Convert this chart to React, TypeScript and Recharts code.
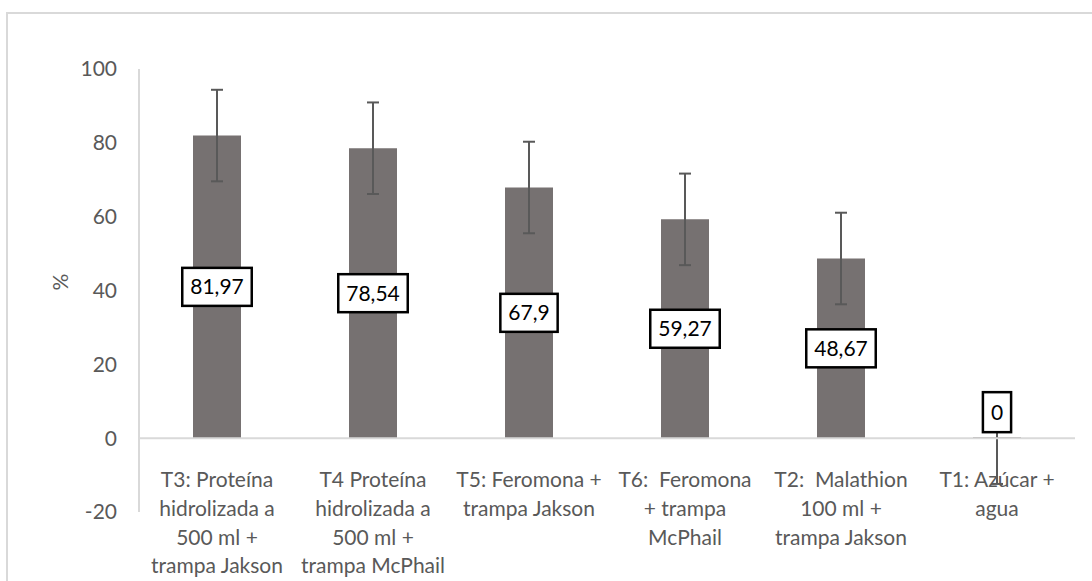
import {
  BarChart,
  Bar,
  XAxis,
  YAxis,
  ErrorBar,
  LabelList,
  ReferenceLine,
} from "recharts";

const categories = [
  "T3: Proteína\nhidrolizada a\n500 ml +\ntrampa Jakson",
  "T4 Proteína\nhidrolizada a\n500 ml +\ntrampa McPhail",
  "T5: Feromona +\ntrampa Jakson",
  "T6:  Feromona\n+ trampa\nMcPhail",
  "T2:  Malathion\n100 ml +\ntrampa Jakson",
  "T1: Azúcar +\nagua",
];
const values = [81.97, 78.54, 67.9, 59.27, 48.67, 0];
const errors = [12.4, 12.4, 12.4, 12.4, 12.4, 12.4];
const yTicks = [-20, 0, 20, 40, 60, 80, 100];

const data = categories.map((name, i) => ({
  name,
  value: values[i],
  err: errors[i],
}));

const W = 1092;
const H = 581;
const TOP = 69;
const XAXIS_H = 69;
const Y_MIN = -20;
const Y_MAX = 100;
const FONT = "Lato, 'Open Sans', sans-serif";
const GREY_TEXT = "#595959";

// pixel distance from the plot bottom (-20) up to the zero line
const zeroOffset = ((0 - Y_MIN) / (Y_MAX - Y_MIN)) * (H - TOP - XAXIS_H);

const fmt = (v: number) => String(v).replace(".", ",");

let ctx: CanvasRenderingContext2D | null = null;
const measure = (text: string, size: number) => {
  if (!ctx) ctx = document.createElement("canvas").getContext("2d");
  if (!ctx) return text.length * size * 0.55;
  ctx.font = `${size}px Lato`;
  return ctx.measureText(text).width;
};

const CategoryTick = (props: any) => {
  const { x, y, payload } = props;
  const lines = String(payload.value).split("\n");
  const baseY = y - zeroOffset + 41;
  return (
    <text
      x={x}
      y={baseY}
      textAnchor="middle"
      fill={GREY_TEXT}
      fontSize={21}
      fontFamily={FONT}
    >
      {lines.map((l, i) => (
        <tspan key={i} x={x} dy={i === 0 ? 0 : 28.7} style={{ whiteSpace: "pre" }}>
          {l}
        </tspan>
      ))}
    </text>
  );
};

const BoxLabel = (props: any) => {
  const { x, y, width, height, value } = props;
  const text = fmt(Number(value));
  const fs = 21;
  const bw = measure(text, fs) + 16;
  let bh = 38;
  const cx = x + width / 2;
  let cy = y + height / 2;
  // zero bars: Excel lifts the box just above the axis
  if (Math.abs(height) < bh) {
    bh = 40;
    cy = y + height - bh / 2 - 6;
  }
  return (
    <g>
      <rect
        x={cx - bw / 2}
        y={cy - bh / 2}
        width={bw}
        height={bh}
        fill="#ffffff"
        stroke="#000000"
        strokeWidth={2.5}
      />
      <text
        x={cx}
        y={cy + 7.5}
        textAnchor="middle"
        fill="#000000"
        fontSize={fs}
        fontFamily={FONT}
      >
        {text}
      </text>
    </g>
  );
};

const App = () => {
  return (
    <div
      style={{
        position: "fixed",
        left: 0,
        top: 0,
        width: W,
        height: H,
        overflow: "hidden",
        background: "#ffffff",
      }}
    >
      <div
        style={{
          position: "absolute",
          left: 6,
          top: 12,
          width: W + 40,
          height: H + 40,
          border: "2px solid #d9d9d9",
        }}
      />
      <div style={{ position: "absolute", left: 0, top: 0 }}>
        <BarChart
          width={W}
          height={H}
          data={data}
          margin={{ top: TOP, right: 17, left: 59, bottom: 0 }}
          barSize={48}
        >
          <XAxis
            dataKey="name"
            height={XAXIS_H}
            axisLine={false}
            tickLine={false}
            interval={0}
            tick={<CategoryTick />}
          />
          <YAxis
            width={80}
            domain={[Y_MIN, Y_MAX]}
            ticks={yTicks}
            interval={0}
            axisLine={{ stroke: "#d9d9d9", strokeWidth: 2 }}
            tickLine={false}
            tickSize={0}
            tickMargin={22}
            tick={{ fill: GREY_TEXT, fontSize: 21, fontFamily: FONT }}
            label={{
              value: "%",
              angle: -90,
              position: "insideLeft",
              offset: 2,
              fill: GREY_TEXT,
              fontSize: 21,
              fontFamily: FONT,
            }}
          />
          <Bar
            dataKey="value"
            fill="#767171"
            minPointSize={1}
            isAnimationActive={false}
          >
            <ErrorBar
              dataKey="err"
              width={6}
              stroke="#595959"
              strokeWidth={2}
              direction="y"
            />
            <LabelList dataKey="value" content={<BoxLabel />} />
          </Bar>
          <ReferenceLine y={0} stroke="#d9d9d9" strokeWidth={2} />
        </BarChart>
      </div>
    </div>
  );
};

export default App;
